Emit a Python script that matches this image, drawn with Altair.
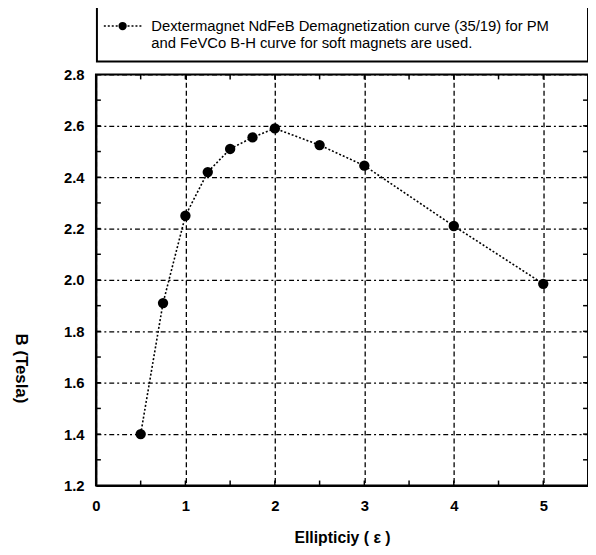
import altair as alt
import pandas as pd

# data
ellipticity = [0.5, 0.75, 1.0, 1.25, 1.5, 1.75, 2.0, 2.5, 3.0, 4.0, 5.0]
b_tesla = [1.40, 1.91, 2.25, 2.42, 2.51, 2.555, 2.59, 2.525, 2.445, 2.21, 1.985]

x_tick_labels = [0, 1, 2, 3, 4, 5]
y_tick_labels = [1.2, 1.4, 1.6, 1.8, 2.0, 2.2, 2.4, 2.6, 2.8]
x_minor = [0.5, 1.0, 1.5, 2.0, 2.5, 3.0, 3.5, 4.0, 4.5, 5.0]
y_minor = [1.3, 1.4, 1.5, 1.6, 1.7, 1.8, 1.9, 2.0, 2.1, 2.2, 2.3, 2.4, 2.5, 2.6, 2.7]

legend_lines = [
    "Dextermagnet NdFeB Demagnetization curve (35/19) for PM",
    "and  FeVCo B-H  curve for soft magnets are used.",
]
x_title = "Ellipticiy (   \u03b5 )"
y_title = "B (Tesla)"

W, H = 498, 416
FONT = "Liberation Sans"

df = pd.DataFrame({"e": ellipticity, "b": b_tesla})
xs = alt.Scale(domain=[0, 5.5], nice=False, zero=False)
ys = alt.Scale(domain=[1.2, 2.8], nice=False, zero=False)

x_axis = alt.Axis(
    values=x_tick_labels, format="d", title=x_title, grid=True,
    gridDash=[5, 3], gridColor="black", gridWidth=1.3, gridOpacity=1, ticks=False,
    labelPadding=13, labelFontSize=15, labelFontWeight="bold", labelFont=FONT,
    titleFont=FONT, titleFontSize=16, titleFontWeight="bold",
    titleX=249, titleY=53, titleBaseline="middle",
    domainColor="black", domainWidth=2, labelColor="black", titleColor="black",
    labelFlush=False, labelOverlap=False,
)
y_axis = alt.Axis(
    values=y_tick_labels, format=".1f", title=y_title, grid=True,
    gridDash=[5, 3, 2, 3], gridColor="black", gridWidth=1.3, gridOpacity=1, ticks=False,
    labelPadding=12, labelFontSize=15, labelFontWeight="bold", labelFont=FONT,
    titleFont=FONT, titleFontSize=17, titleFontWeight="bold",
    titleAngle=90, titleX=-76, titleY=297, titleAlign="center", titleBaseline="middle",
    domainColor="black", domainWidth=2, labelColor="black", titleColor="black",
    labelFlush=False, labelOverlap=False,
)

base = alt.Chart(df)
line = base.mark_line(color="black", strokeDash=[2, 2], strokeWidth=1.6).encode(
    x=alt.X("e:Q", scale=xs, axis=x_axis),
    y=alt.Y("b:Q", scale=ys, axis=y_axis),
)
points = base.mark_point(filled=True, size=110, color="black", opacity=1).encode(
    x=alt.X("e:Q", scale=xs),
    y=alt.Y("b:Q", scale=ys),
)

xt = alt.Chart(pd.DataFrame({"e": x_minor}))
bottom_ticks = xt.mark_rule(color="black", strokeWidth=1.5).encode(
    x=alt.X("e:Q", scale=xs), y=alt.value(H), y2=alt.value(H - 5)
)
top_ticks = xt.mark_rule(color="black", strokeWidth=1.5).encode(
    x=alt.X("e:Q", scale=xs), y=alt.value(0), y2=alt.value(5)
)
yt = alt.Chart(pd.DataFrame({"b": y_minor}))
left_ticks = yt.mark_rule(color="black", strokeWidth=1.5).encode(
    y=alt.Y("b:Q", scale=ys), x=alt.value(0), x2=alt.value(5)
)
right_ticks = yt.mark_rule(color="black", strokeWidth=1.5).encode(
    y=alt.Y("b:Q", scale=ys), x=alt.value(W), x2=alt.value(W - 5)
)

one = alt.Chart(pd.DataFrame({"k": [0]}))
leg_box = one.mark_rect(fill="white", stroke="black", strokeWidth=2).encode(
    x=alt.value(1), x2=alt.value(W), y=alt.value(-80), y2=alt.value(-13)
)
leg_line = one.mark_rule(color="black", strokeDash=[2, 2], strokeWidth=1.6).encode(
    x=alt.value(8), x2=alt.value(46), y=alt.value(-49)
)
leg_point = one.mark_point(filled=True, size=70, color="black", opacity=1).encode(
    x=alt.value(27), y=alt.value(-49)
)
leg_text = one.mark_text(
    align="left", baseline="alphabetic", font=FONT, fontSize=15, lineHeight=17, color="black"
).encode(x=alt.value(56), y=alt.value(-44), text=alt.value(legend_lines))

chart = alt.layer(
    line, points, bottom_ticks, top_ticks, left_ticks, right_ticks,
    leg_box, leg_line, leg_point, leg_text,
).properties(
    width=W, height=H,
    autosize=alt.AutoSizeParams(type="none"),
    padding={"left": 89, "top": 64, "right": 0, "bottom": 60},
    background="white",
).configure_view(stroke="black", strokeWidth=2)

chart.save("out.html", embed_options={"renderer": "svg", "actions": False})
